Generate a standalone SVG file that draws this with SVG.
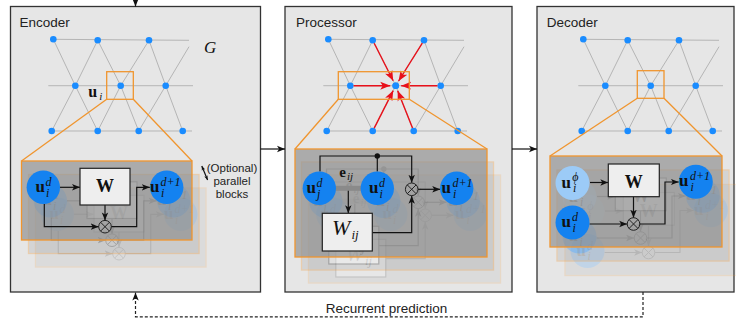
<svg xmlns="http://www.w3.org/2000/svg" width="736" height="320" viewBox="0 0 736 320">
  <style>
    .panel { fill: #e6e6e6; stroke: #333; stroke-width: 1.3; }
    .ttl { font-family: "Liberation Sans", Arial, sans-serif; font-size: 13.5px; fill: #222; }
    .note { font-family: "Liberation Sans", Arial, sans-serif; font-size: 11.5px; fill: #222; text-anchor: middle; }
    .ge { fill: none; stroke: #b5b5b5; stroke-width: 1; }
    .gn { fill: #1a8cff; }
    .zoom { fill: none; stroke: #f0952e; stroke-width: 1.3; }
    .blk { fill: #8c8c8c; fill-opacity: 0.65; stroke: #f0952e; stroke-width: 1.3; }
    .nd { fill: #1482f0; }
    .ndl { fill: #9ccbf7; }
    .wb { fill: #eeeeee; stroke: #222; stroke-width: 1.2; }
    .ln { fill: none; stroke: #111; stroke-width: 1.2; }
    .ot { fill: none; stroke: #222; stroke-width: 1; }
    .bar { stroke: #8a8a8a; stroke-width: 5; }
    .mb { font-family: "Liberation Serif", "DejaVu Serif", serif; font-weight: bold; font-size: 17px; fill: #111; }
    .mw { font-family: "Liberation Serif", "DejaVu Serif", serif; font-weight: bold; font-size: 18px; fill: #111; text-anchor: middle; }
    .mi { font-family: "Liberation Serif", "DejaVu Serif", serif; font-style: italic; font-size: 12px; fill: #111; }
    .red { fill: none; stroke: #e8101a; stroke-width: 1.4; }
    .dash { fill: none; stroke: #222; stroke-width: 1.2; stroke-dasharray: 3 2; }
  </style>
  <defs>
    <marker id="arr" viewBox="0 0 10 10" refX="10" refY="5" markerWidth="8" markerHeight="8" markerUnits="userSpaceOnUse" orient="auto">
      <path d="M0,1 L10,5 L0,9 L2.5,5 z" fill="#111"/>
    </marker>
    <marker id="arrS" viewBox="0 0 10 10" refX="10" refY="5" markerWidth="4.5" markerHeight="4.5" markerUnits="userSpaceOnUse" orient="auto-start-reverse">
      <path d="M0,1 L10,5 L0,9 L2.5,5 z" fill="#111"/>
    </marker>
    <marker id="arrR" viewBox="0 0 10 10" refX="10" refY="5" markerWidth="10" markerHeight="10" markerUnits="userSpaceOnUse" orient="auto">
      <path d="M0,1 L10,5 L0,9 L2.5,5 z" fill="#e8101a"/>
    </marker>

    <!-- mesh graph shared by the three stages -->
    <g id="mesh">
      <polyline class="ge" points="53.3,39.3 189,40.3"/>
      <polyline class="ge" points="48.3,85.7 193,85.7"/>
      <polyline class="ge" points="51.7,131 192,131"/>
      <polyline class="ge" points="53.3,39.3 75.3,85.7 97.7,131"/>
      <polyline class="ge" points="97.7,40.3 75.3,85.7 51.7,131"/>
      <polyline class="ge" points="97.7,40.3 120.7,85.7 138.7,131"/>
      <polyline class="ge" points="149,40.3 120.7,85.7 97.7,131"/>
      <polyline class="ge" points="149,40.3 165.7,85.7 182.7,131"/>
      <polyline class="ge" points="189,46.7 165.7,85.7 138.7,131"/>
      <circle class="gn" cx="53.3" cy="39.3" r="3.3"/>
      <circle class="gn" cx="97.7" cy="40.3" r="3.3"/>
      <circle class="gn" cx="149" cy="40.3" r="3.3"/>
      <circle class="gn" cx="75.3" cy="85.7" r="3.3"/>
      <circle class="gn" cx="120.7" cy="85.7" r="3.3"/>
      <circle class="gn" cx="165.7" cy="85.7" r="3.3"/>
      <circle class="gn" cx="51.7" cy="131" r="3.3"/>
      <circle class="gn" cx="97.7" cy="131" r="3.3"/>
      <circle class="gn" cx="138.7" cy="131" r="3.3"/>
      <circle class="gn" cx="182.7" cy="131" r="3.3"/>
    </g>

    <!-- encoder block: u_i^d -> W -> u_i^{d+1} -->
    <g id="encBlock">
      <rect class="blk" x="21.5" y="161" width="170.5" height="79"/>
      <polyline class="ln" points="44.3,204 44.3,226.7 98.7,226.7" marker-end="url(#arr)"/>
      <line class="ln" x1="60" y1="187.3" x2="80" y2="187.3" marker-end="url(#arr)"/>
      <line class="ln" x1="105" y1="205" x2="105" y2="220.4" marker-end="url(#arr)"/>
      <polyline class="ln" points="111.3,226.7 136.7,226.7 136.7,187.3 149.8,187.3" marker-end="url(#arr)"/>
      <circle class="nd" cx="43.3" cy="187.3" r="16.7"/>
      <text class="mb" x="35.5" y="191.8">u</text>
      <text class="mi" x="45.5" y="185.8">d</text>
      <text class="mi" x="46" y="196.5">i</text>
      <rect class="wb" x="80" y="168.3" width="50" height="36.7"/>
      <text class="mw" x="105" y="191.7">W</text>
      <circle class="ot" cx="105" cy="226.7" r="6.3"/>
      <path class="ot" d="M100.5,222.2 L109.5,231.2 M109.5,222.2 L100.5,231.2"/>
      <circle class="nd" cx="166.7" cy="187.3" r="16.7"/>
      <text class="mb" x="150" y="191.8">u</text>
      <text class="mi" x="160.5" y="185.8">d+1</text>
      <text class="mi" x="161" y="196.5">i</text>
    </g>

    <!-- processor block: message passing with edge features -->
    <g id="procBlock">
      <rect class="blk" x="295" y="149" width="192" height="108"/>
      <polyline class="ln" points="320,171.6 320,156 411.7,156 411.7,182.8" marker-end="url(#arr)"/>
      <line class="ln" x1="377.3" y1="156" x2="377.3" y2="171.6"/>
      <circle cx="377.3" cy="156" r="2.7" fill="#111"/>
      <line class="bar" x1="335" y1="188.3" x2="361" y2="188.3"/>
      <line class="ln" x1="348.3" y1="190.8" x2="348.3" y2="213.3" marker-end="url(#arr)"/>
      <polyline class="ln" points="372.3,232.7 411.7,232.7 411.7,195.8" marker-end="url(#arr)"/>
      <line class="ln" x1="418" y1="189.3" x2="440.2" y2="189.3" marker-end="url(#arr)"/>
      <circle class="nd" cx="319.3" cy="188.3" r="16.7"/>
      <text class="mb" x="306.5" y="192.8">u</text>
      <text class="mi" x="316.5" y="186.8">d</text>
      <text class="mi" x="317" y="197.5">j</text>
      <circle class="nd" cx="377.3" cy="188.3" r="16.7"/>
      <text class="mb" x="369" y="192.8">u</text>
      <text class="mi" x="379" y="186.8">d</text>
      <text class="mi" x="379.5" y="197.5">i</text>
      <text class="mb" x="339.3" y="176.7" style="font-size:15px">e</text>
      <text class="mi" x="347" y="179.5" style="font-size:11px">ij</text>
      <rect class="wb" x="322.3" y="213.3" width="50" height="37.7"/>
      <text class="mi" x="332" y="235" style="font-size:22px">W</text>
      <text class="mi" x="351.5" y="238.5" style="font-size:13px">ij</text>
      <circle class="ot" cx="411.7" cy="189.3" r="6.3"/>
      <path class="ot" d="M407.2,184.8 L416.2,193.8 M416.2,184.8 L407.2,193.8"/>
      <circle class="nd" cx="456.7" cy="188.3" r="16.7"/>
      <text class="mb" x="441.5" y="192.8">u</text>
      <text class="mi" x="452.5" y="186.8">d+1</text>
      <text class="mi" x="453" y="197.5">i</text>
    </g>

    <!-- decoder block: u_i^phi gates the latent u_i^d -->
    <g id="decBlock">
      <rect class="blk" x="550" y="156" width="172" height="91"/>
      <line class="ln" x1="590" y1="182.5" x2="608.3" y2="182.5" marker-end="url(#arr)"/>
      <line class="ln" x1="633.5" y1="196.7" x2="633.5" y2="217.7" marker-end="url(#arr)"/>
      <line class="ln" x1="589.5" y1="224" x2="627.2" y2="224" marker-end="url(#arr)"/>
      <polyline class="ln" points="639.8,224 665,224 665,182 678.8,182" marker-end="url(#arr)"/>
      <circle class="ndl" cx="572.5" cy="183" r="17"/>
      <text class="mb" x="561.5" y="187.5">u</text>
      <text class="mi" x="572.3" y="181">ϕ</text>
      <text class="mi" x="573" y="192">i</text>
      <circle class="nd" cx="572.5" cy="222.5" r="17"/>
      <text class="mb" x="561.5" y="227">u</text>
      <text class="mi" x="572" y="221">d</text>
      <text class="mi" x="572.5" y="231.5">i</text>
      <rect class="wb" x="608.3" y="164" width="51" height="32.7"/>
      <text class="mw" x="633.8" y="188.3">W</text>
      <circle class="ot" cx="633.5" cy="224" r="6.3"/>
      <path class="ot" d="M629,219.5 L638,228.5 M638,219.5 L629,228.5"/>
      <circle class="nd" cx="695.8" cy="181.7" r="17"/>
      <text class="mb" x="679" y="186.2">u</text>
      <text class="mi" x="690" y="180.2">d+1</text>
      <text class="mi" x="690.5" y="191">i</text>
    </g>
  </defs>

  <!-- Encoder stage -->
  <g id="encoder">
    <rect class="panel" x="10.5" y="6.5" width="250" height="285.5"/>
    <text class="ttl" x="19.5" y="26.5">Encoder</text>
    <use href="#mesh"/>
    <rect class="zoom" x="106.7" y="71.7" width="26.6" height="27.6"/>
    <text class="mb" x="88.3" y="97.3" style="font-size:16px">u</text>
    <text class="mi" x="99.3" y="100" style="font-size:11px">i</text>
    <text x="204" y="53.3" style="font-family:'Liberation Serif','DejaVu Serif',serif;font-style:italic;font-size:17px;fill:#111">G</text>
    <line class="zoom" x1="106.7" y1="99.3" x2="21.5" y2="161"/>
    <line class="zoom" x1="133.3" y1="99.3" x2="192" y2="161"/>
    <use href="#encBlock" transform="translate(14,27)" opacity="0.17"/>
    <use href="#encBlock" transform="translate(7,13.5)" opacity="0.3"/>
    <use href="#encBlock"/>
    <line x1="201.8" y1="166" x2="207.6" y2="180" stroke="#111" stroke-width="1.2" marker-start="url(#arrS)" marker-end="url(#arrS)"/>
    <text class="note" x="232" y="171.5">(Optional)</text>
    <text class="note" x="232" y="185">parallel</text>
    <text class="note" x="232" y="198.3">blocks</text>
  </g>

  <!-- Processor stage -->
  <g id="processor">
    <rect class="panel" x="285" y="6.5" width="227" height="285.5"/>
    <text class="ttl" x="296" y="26.5">Processor</text>
    <use href="#mesh" transform="translate(275,0)"/>
    <g id="messages">
      <line class="red" x1="374.2" y1="43.2" x2="393.2" y2="80.8" marker-end="url(#arrR)"/>
      <line class="red" x1="422.3" y1="43.1" x2="398.6" y2="81" marker-end="url(#arrR)"/>
      <line class="red" x1="353.6" y1="85.7" x2="390.2" y2="85.7" marker-end="url(#arrR)"/>
      <line class="red" x1="437.4" y1="85.7" x2="401.2" y2="85.7" marker-end="url(#arrR)"/>
      <line class="red" x1="374.2" y1="128.1" x2="393.2" y2="90.6" marker-end="url(#arrR)"/>
      <line class="red" x1="412.5" y1="127.9" x2="397.7" y2="90.8" marker-end="url(#arrR)"/>
      <circle class="gn" cx="395.7" cy="85.7" r="3.3"/>
    </g>
    <rect class="zoom" x="338.3" y="71.7" width="71" height="27.6"/>
    <line class="zoom" x1="338.3" y1="99.3" x2="295" y2="149"/>
    <line class="zoom" x1="409.3" y1="99.3" x2="487" y2="149"/>
    <use href="#procBlock" transform="translate(13.5,26)" opacity="0.17"/>
    <use href="#procBlock" transform="translate(6.5,13)" opacity="0.3"/>
    <use href="#procBlock"/>
  </g>

  <!-- Decoder stage -->
  <g id="decoder">
    <rect class="panel" x="537" y="6.5" width="197" height="285.5"/>
    <text class="ttl" x="546.7" y="26.5">Decoder</text>
    <use href="#mesh" transform="translate(530,0)"/>
    <rect class="zoom" x="637.3" y="70.7" width="26.7" height="27.6"/>
    <line class="zoom" x1="637.3" y1="98.3" x2="550" y2="156"/>
    <line class="zoom" x1="664" y1="98.3" x2="722" y2="156"/>
    <use href="#decBlock" transform="translate(15,28.5)" opacity="0.17"/>
    <use href="#decBlock" transform="translate(7,14)" opacity="0.3"/>
    <use href="#decBlock"/>
  </g>

  <!-- Stage connectors -->
  <g id="connectors">
    <line class="ln" x1="135.5" y1="0" x2="135.5" y2="6.5" marker-end="url(#arr)"/>
    <line class="ln" x1="260.5" y1="149" x2="285" y2="149" marker-end="url(#arr)"/>
    <line class="ln" x1="512" y1="149" x2="537" y2="149" marker-end="url(#arr)"/>
    <polyline class="dash" points="643,292 643,316.8 135.5,316.8 135.5,292.5" marker-end="url(#arr)"/>
    <text class="ttl" x="386.5" y="313" text-anchor="middle">Recurrent prediction</text>
  </g>
</svg>
